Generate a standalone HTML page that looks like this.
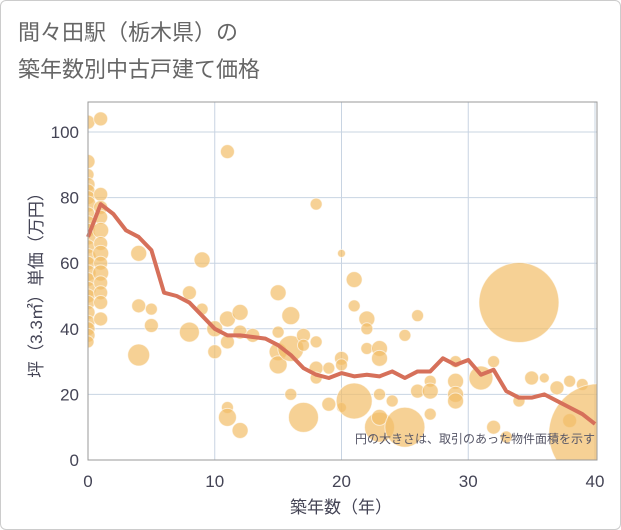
<!DOCTYPE html>
<html><head><meta charset="utf-8"><style>
body{margin:0;background:#fff;font-family:"Liberation Sans","Noto Sans CJK JP",sans-serif}
#wrap{position:relative;width:619px;height:528px;border:1px solid #ccc;border-radius:6px;overflow:hidden}
</style></head><body>
<div id="wrap">
<svg id="c" width="621" height="530" style="position:absolute;left:-1px;top:-1px">
<text x="18" y="40" font-size="22" fill="#666">間々田駅（栃木県）の</text>
<text x="18" y="77" font-size="22" fill="#666">築年数別中古戸建て価格</text>
<defs><clipPath id="pc"><rect x="88" y="102" width="509" height="358"/></clipPath></defs>
<g id="grid"></g>
<g id="bub" clip-path="url(#pc)"></g>
<g id="ln"></g>
<g id="ax"></g>
<text x="595" y="443" font-size="12" fill="#556" text-anchor="end">円の大きさは、取引のあった物件面積を示す</text>
<text x="341" y="513" font-size="17" fill="#445" text-anchor="middle">築年数（年）</text>
<text transform="translate(42,281) rotate(-90)" font-size="17" fill="#445" text-anchor="middle">坪（3.3㎡）単価（万円）</text>
</svg></div>
<script>
const xTicks=[0,10,20,30,40];
const yTicks=[0,20,40,60,80,100];
const lineYears=[0,1,2,3,4,5,6,7,8,9,10,11,12,13,14,15,16,17,18,19,20,21,22,23,24,25,26,27,28,29,30,31,32,33,34,35,36,37,38,39,40];
const lineValues=[68,78,75,70,68,64,51,50,48,44,40,38,38,37.5,37,35,32,28,26,25,26.5,25.5,26,25.5,27,25,27,27,31,29,30.5,26,27.5,21,19,19,20,18,16,14,11];
const bubYears=[
0,0,0,0,0,0,0,0,0,0,0,0,0,0,0,0,0,0,0,0,0,0,0,0,
1,1,1,1,1,1,1,1,1,1,1,1,1,
4,4,5,5,4,11,8,8,9,9,10,10,11,11,11,11,12,12,12,13,
15,15,15,15,16,16,16,17,17,17,18,18,18,18,19,19,20,20,20,20,
21,21,21,22,22,22,23,23,23,23,23,24,25,25,26,26,27,27,27,
29,29,29,29,31,32,32,33,34,34,35,36,37,38,38,39,40.3];
const bubValues=[
103,91,87,84,82,80,78,75,72,70,68,65,62,60,57,55,52,50,48,45,42,40,38,36,
104,81,77,74,70,66,63,60,57,54,51,48,43,
63,47,46,41,32,94,51,39,61,46,40,33,43,36,16,13,45,39,9,38,
51,39,33,29,44,34,20,38,35,13,78,36,28,25,28,17,63,31,29,16,
55,47,18,43,40,34,34,31,20,10,13,18,38,10,44,21,24,21,14,
24,20,18,30,25,30,10,7,48,18,25,25,22,24,12,23,8];
const bubSizes=[
7,7,6,7,7,7,8,7,8,7,8,7,8,7,8,7,8,7,7,7,7,7,7,6,
7,7,7,7,8,7,8,7,8,7,7,7,7,
8,7,6,7,11,7,7,10,8,6,8,7,8,7,6,9,8,7,8,7,
8,6,9,9,9,13,6,7,6,15,6,6,7,6,6,7,4,7,6,5,
8,6,18,8,6,6,8,8,6,15,8,6,6,20,6,7,6,8,6,
8,8,8,6,12,6,7,6,40,6,7,5,7,6,7,6,50];
const NS='http://www.w3.org/2000/svg';
const X0=88,X1=595,Y0=460,Y1=132;
const sx=v=>X0+(X1-X0)*v/40, sy=v=>Y0-(Y0-Y1)*v/100;
function mk(t,a,p){const e=document.createElementNS(NS,t);for(const k in a)e.setAttribute(k,a[k]);p.appendChild(e);return e;}
const g=document.getElementById('grid'),ax=document.getElementById('ax');
for(const t of xTicks){const l=mk('line',{x1:sx(t),x2:sx(t),y1:102,y2:460,stroke:'#c8d4e2','stroke-width':1},g);

const tx=mk('text',{x:sx(t),y:487,'font-size':17,fill:'#445','text-anchor':'middle'},ax);tx.textContent=t;
}
for(const t of yTicks){const l=mk('line',{x1:88,x2:597,y1:sy(t),y2:sy(t),stroke:'#c8d4e2','stroke-width':1},g);

const tx=mk('text',{x:79,y:sy(t)+6,'font-size':17,fill:'#445','text-anchor':'end'},ax);tx.textContent=t;
}
const fr=mk('rect',{x:88,y:102,width:509,height:358,fill:'none',stroke:'#999','stroke-width':1},ax);

const b=document.getElementById('bub');
const n=Math.min(bubYears.length,bubValues.length,bubSizes.length);
for(let i=0;i<n;i++){const c=mk('circle',{cx:sx(bubYears[i]),cy:sy(bubValues[i]),r:bubSizes[i],fill:'#f2bd68','fill-opacity':0.7,stroke:'#fff','stroke-opacity':0.6,'stroke-width':1},b);
}
const p=mk('polyline',{points:lineYears.map((y,i)=>sx(y)+','+sy(lineValues[i])).join(' '),fill:'none',stroke:'#d6705a','stroke-width':4,'stroke-linejoin':'round'},document.getElementById('ln'));

</script></body></html>
